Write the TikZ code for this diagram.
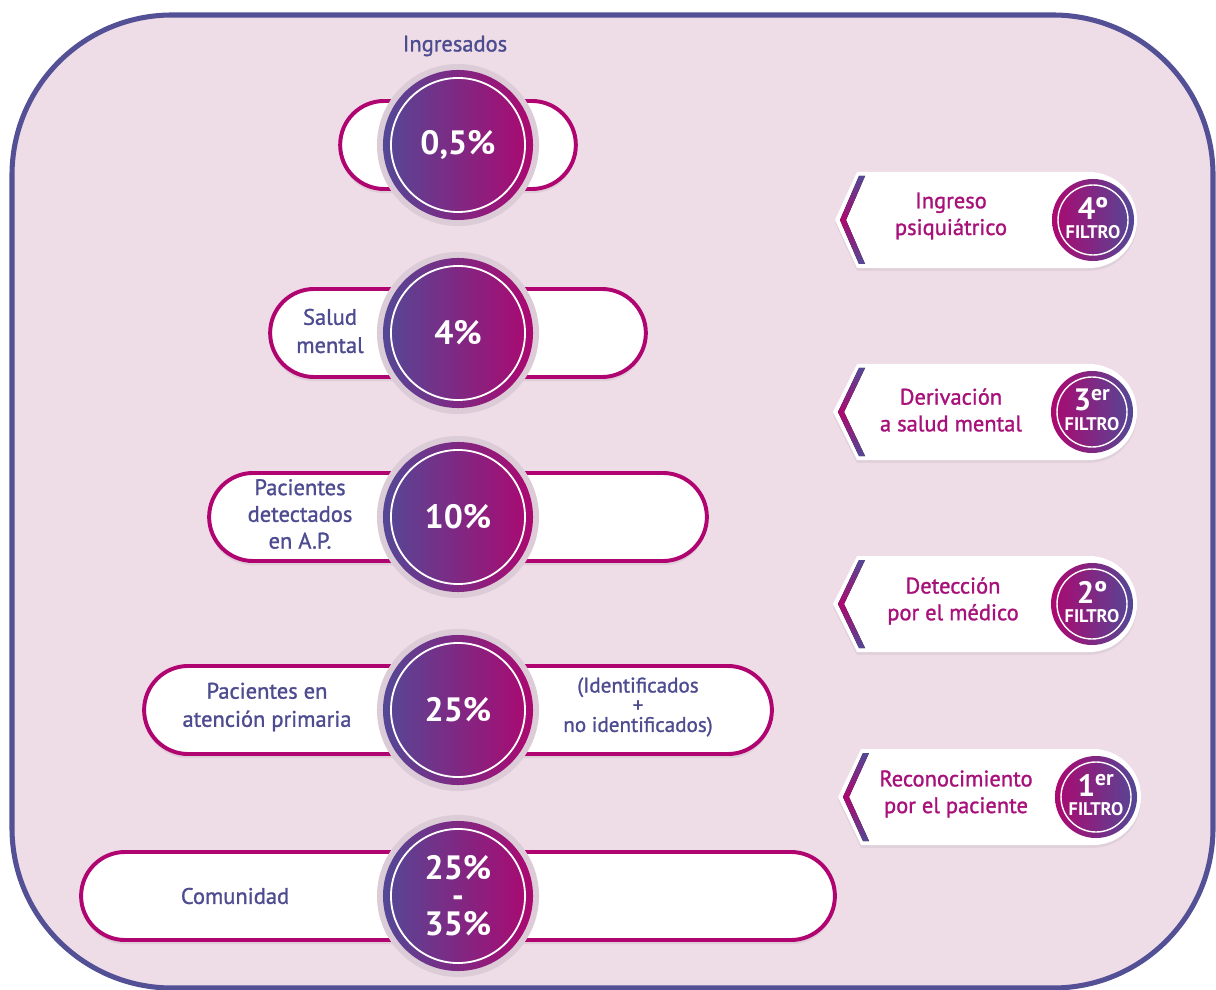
\documentclass[tikz,border=0pt]{standalone}
\usepackage{fontspec}
\setmainfont{PT Sans}
\newfontface\semibold{PT Sans}[RawFeature={embolden=1.2}]
\usepackage{xcolor}
\definecolor{ColFrame}{RGB}{84,80,150}
\definecolor{ColBack}{RGB}{238,220,231}
\definecolor{ColPill}{RGB}{176,4,112}
\definecolor{ColBlue}{RGB}{84,72,150}
\definecolor{ColMag}{RGB}{172,8,112}
\definecolor{ColHalo}{RGB}{220,204,215}
\definecolor{ColLabel}{RGB}{78,76,145}
\definecolor{ColTag}{RGB}{168,16,122}
\usepackage{tikz}
\usetikzlibrary{shapes}
\usetikzlibrary{shadows}
\tikzstyle{Frame}=[draw=ColFrame,fill=ColBack,line width=3.6pt,
rounded corners=4cm]
\tikzstyle{Pill}=[rounded rectangle,draw=ColPill,fill=white,line width=2.8pt,
minimum height=2.2cm,
drop shadow={shadow xshift=0pt,shadow yshift=-3pt,opacity=.15}]
\tikzstyle{Halo}=[circle,fill=ColHalo,minimum size=4.05cm,inner sep=0pt]
\tikzstyle{Disc}=[circle,left color=ColBlue,right color=ColMag,
minimum size=3.75cm,inner sep=0pt,text=white,align=center,
font=\fontsize{24}{20}\selectfont\bfseries]
\tikzstyle{Ring}=[circle,draw=white,line width=1.3pt,minimum size=3.35cm]
\tikzstyle{Label}=[text=ColLabel,align=center,
font=\fontsize{16}{20}\selectfont\semibold]
\tikzstyle{Tag}=[fill=white,
drop shadow={shadow xshift=0pt,shadow yshift=-2pt,opacity=.12}]
\tikzstyle{Chevron}=[top color=ColBlue,bottom color=ColBlue,middle color=ColMag]
\tikzstyle{TagDisc}=[circle,left color=ColMag,right color=ColBlue,
minimum size=2.05cm,inner sep=0pt]
\tikzstyle{TagRing}=[circle,draw=white,line width=1pt,minimum size=1.75cm]
\tikzstyle{TagText}=[text=ColTag,align=center,
font=\fontsize{16}{19}\selectfont\semibold]
\tikzstyle{Num}=[text=white,inner sep=0pt,
font=\fontsize{22}{22}\selectfont\bfseries]
\tikzstyle{Filtro}=[text=white,inner sep=0pt,
font=\fontsize{13}{13}\selectfont\bfseries]

\begin{document}
\begin{tikzpicture}[x=0.025cm,y=-0.025cm]
        \useasboundingbox (0,0) rectangle (1216,990);
        \fill[white] (0,0) rectangle (1216,990);
        \draw[Frame] (12,15) rectangle (1213,988);
        % pyramid of percentages
        \node[Pill,minimum width=6.125cm](p1)at(458,145){};
        \node[Pill,minimum width=9.625cm](p2)at(458,333){};
        \node[Pill,minimum width=12.675cm](p3)at(458,517){};
        \node[Pill,minimum width=15.925cm](p4)at(458,710){};
        \node[Pill,minimum width=19.075cm](p5)at(458,896){};
        \node[Halo](h1)at(p1){};
        \node[Halo](h2)at(p2){};
        \node[Halo](h3)at(p3){};
        \node[Halo](h4)at(p4){};
        \node[Halo](h5)at(p5){};
        \node[Disc](d1)at(p1){0,5\%};
        \node[Disc](d2)at(p2){4\%};
        \node[Disc](d3)at(p3){10\%};
        \node[Disc](d4)at(p4){25\%};
        \node[Disc](d5)at(p5){25\%\\-\\35\%};
        \node[Ring](o1)at(d1){};
        \node[Ring](o2)at(d2){};
        \node[Ring](o3)at(d3){};
        \node[Ring](o4)at(d4){};
        \node[Ring](o5)at(d5){};
        \node[Label](l1)at(455,46){Ingresados};
        \node[Label](l2)at(330,331){Salud\\mental};
        \node[Label,font=\fontsize{16}{19}\selectfont\semibold](l3)at(300,514)
                {Pacientes\\detectados\\en A.P.};
        \node[Label](l4)at(267,707){Pacientes en\\atención primaria};
        \node[Label,font=\fontsize{15}{14}\selectfont\semibold](r4)at(638,707)
                {(Identificados\\+\\no identificados)};
        \node[Label](l5)at(235,896){Comunidad};
        % filters
        \path[Tag] (857,172) -- (1089,172) arc[start angle=90,end angle=-90,
                radius=1.2cm] -- (857,268) -- (835,220) -- cycle;
        \path[Tag] (857,364) -- (1089,364) arc[start angle=90,end angle=-90,
                radius=1.2cm] -- (857,460) -- (833,412) -- cycle;
        \path[Tag] (857,556) -- (1089,556) arc[start angle=90,end angle=-90,
                radius=1.2cm] -- (857,652) -- (833,604) -- cycle;
        \path[Tag] (861,749) -- (1093,749) arc[start angle=90,end angle=-90,
                radius=1.2cm] -- (861,845) -- (838,797) -- cycle;
        \fill[Chevron] (859,176) -- (840,220) -- (859,264) -- (865,264)
                -- (846,220) -- (865,176) -- cycle;
        \fill[Chevron] (859,368) -- (838,412) -- (859,456) -- (865,456)
                -- (844,412) -- (865,368) -- cycle;
        \fill[Chevron] (859,560) -- (838,604) -- (859,648) -- (865,648)
                -- (844,604) -- (865,560) -- cycle;
        \fill[Chevron] (863,753) -- (843,797) -- (863,841) -- (869,841)
                -- (849,797) -- (869,753) -- cycle;
        \node[TagDisc](t4)at(1093,220){};
        \node[TagDisc](t3)at(1092,412){};
        \node[TagDisc](t2)at(1092,604){};
        \node[TagDisc](t1)at(1096,797){};
        \node[TagRing](q4)at(t4){};
        \node[TagRing](q3)at(t3){};
        \node[TagRing](q2)at(t2){};
        \node[TagRing](q1)at(t1){};
        \node[Num](n4)at([yshift=0.3cm]t4){4º};
        \node[Num](n3)at([yshift=0.3cm]t3){3\textsuperscript{er}};
        \node[Num](n2)at([yshift=0.3cm]t2){2º};
        \node[Num](n1)at([yshift=0.3cm]t1){1\textsuperscript{er}};
        \node[Filtro](f4)at([yshift=-0.3cm]t4){FILTRO};
        \node[Filtro](f3)at([yshift=-0.3cm]t3){FILTRO};
        \node[Filtro](f2)at([yshift=-0.3cm]t2){FILTRO};
        \node[Filtro](f1)at([yshift=-0.3cm]t1){FILTRO};
        \node[TagText](s4)at(951,216){Ingreso\\psiquiátrico};
        \node[TagText](s3)at(951,410){Derivación\\a salud mental};
        \node[TagText](s2)at(953,601){Detección\\por el médico};
        \node[TagText](s1)at(956,794){Reconocimiento\\por el paciente};
    \end{tikzpicture}
\end{document}
